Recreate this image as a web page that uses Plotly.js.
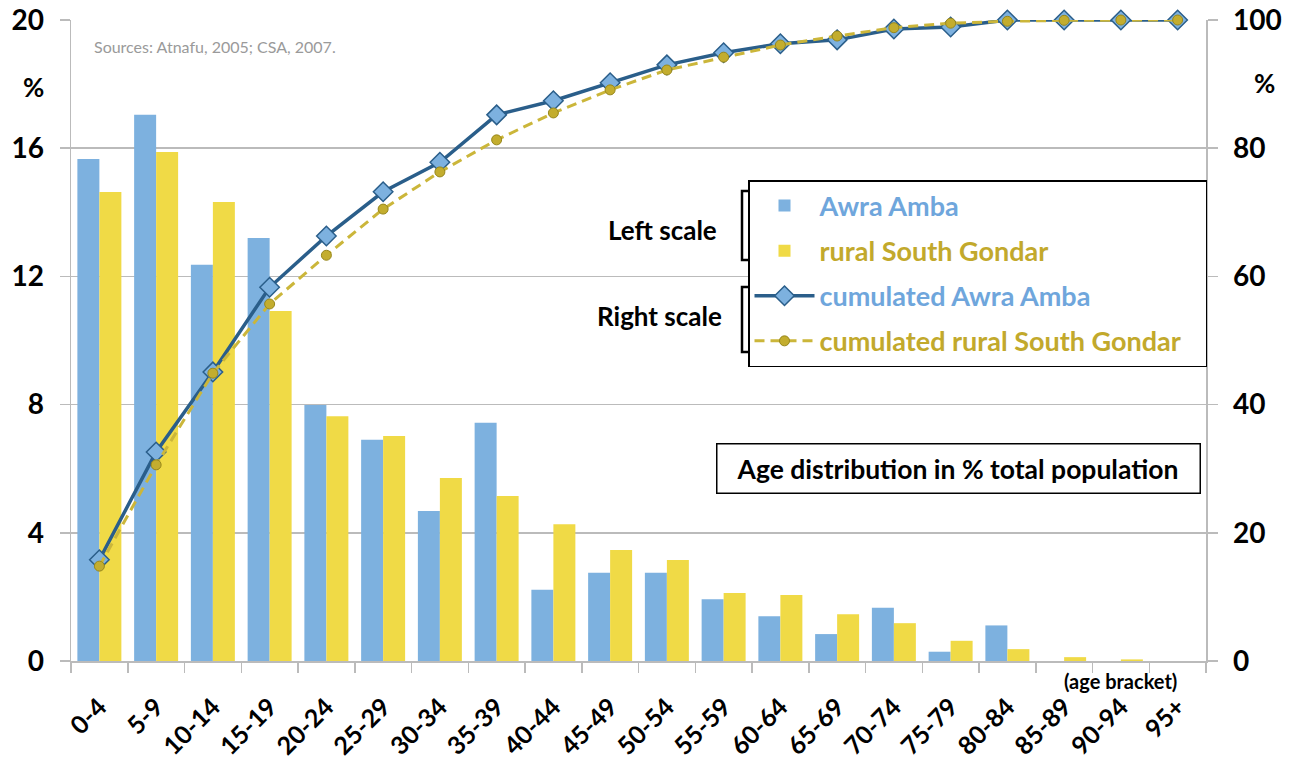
<!DOCTYPE html>
<html>
<head>
<meta charset="utf-8">
<script src="https://cdn.plot.ly/plotly-3.0.1.min.js"></script>
<style>html,body{margin:0;padding:0;background:#fff;}#chart{width:1298px;height:765px;}</style>
</head>
<body>
<div id="chart"></div>
<script>
var ageBrackets = ["0-4","5-9","10-14","15-19","20-24","25-29","30-34","35-39","40-44","45-49","50-54","55-59","60-64","65-69","70-74","75-79","80-84","85-89","90-94","95+"];
var awraAmba = [15.66,17.04,12.36,13.2,7.99,6.9,4.68,7.43,2.22,2.75,2.75,1.93,1.4,0.84,1.66,0.29,1.11,0,0,0];
var southGondar = [14.63,15.88,14.32,10.92,7.64,7.02,5.71,5.15,4.27,3.46,3.15,2.12,2.06,1.46,1.18,0.63,0.37,0.12,0.05,0];
var cumAwraAmba = [15.8,32.6,45.1,58.3,66.3,73.2,77.8,85.2,87.4,90.2,93.0,94.9,96.3,96.9,98.6,98.9,100,100,100,100];
var cumSouthGondar = [14.8,30.6,44.9,55.7,63.3,70.5,76.3,81.3,85.5,89.1,92.2,94.2,96.1,97.5,98.8,99.5,99.8,99.95,100,100];
var leftTicks = [0,4,8,12,16,20];
var rightTicks = [0,20,40,60,80,100];

var FONT = "Lato, 'Open Sans', sans-serif";
var BLUE = "#7DB1DF", YELLOW = "#F0DA46", DARKBLUE = "#2A5E8A", OLIVE = "#CBB63A";
var PAD = "\u00a0\u00a0\u00a0";

var traces = [
  {type:"bar", x:ageBrackets, y:awraAmba, name:'<span style="color:#6FA6DC">Awra Amba</span>',
   marker:{color:BLUE, line:{width:0}}, legendgroup:"a"},
  {type:"bar", x:ageBrackets, y:southGondar, name:'<span style="color:#C2A92C">rural South Gondar</span>',
   marker:{color:YELLOW, line:{width:0}}, legendgroup:"b"},
  {type:"scatter", mode:"lines+markers", x:ageBrackets, y:cumAwraAmba, yaxis:"y2", cliponaxis:false,
   name:'<span style="color:#6FA6DC">cumulated Awra Amba</span>',
   line:{color:DARKBLUE, width:3.5}, marker:{symbol:"diamond", size:15, color:BLUE, line:{color:DARKBLUE, width:1.5}}, legendgroup:"c"},
  {type:"scatter", mode:"lines+markers", x:ageBrackets, y:cumSouthGondar, yaxis:"y2", cliponaxis:false,
   name:'<span style="color:#C2A92C">cumulated rural South Gondar</span>' + PAD,
   line:{color:OLIVE, width:3, dash:"10px,6px"}, marker:{symbol:"circle", size:10, color:"#C3AD2E", line:{color:"#97871C", width:1}}, legendgroup:"d"}
];

function px2x(p){return (p-71)/1135;}
function py2y(p){return (661-p)/641;}

var layout = {
  width:1298, height:765,
  margin:{l:71, r:92, t:20, b:104, pad:0},
  paper_bgcolor:"#fff", plot_bgcolor:"#fff",
  font:{family:FONT, color:"#000"},
  barmode:"group", bargap:0.225, bargroupgap:0,
  showlegend:true,
  legend:{x:px2x(748), y:py2y(180), xanchor:"left", yanchor:"top", bgcolor:"#fff", bordercolor:"#000", borderwidth:1.5,
    font:{family:FONT, size:27, weight:"bold"}, tracegroupgap:7, itemwidth:60, traceorder:"grouped"},
  xaxis:{type:"category", range:[-0.5,19.5], autorange:false, tickson:"boundaries", ticks:"outside", ticklen:10, tickcolor:"#BBBBBB", tickwidth:1.5,
    showline:true, linecolor:"#BBBBBB", linewidth:1.5, showgrid:false, tickangle:-45, ticklabelstandoff:20,
    tickfont:{family:FONT, size:25, weight:"bold"}, fixedrange:true, automargin:false},
  yaxis:{range:[0,20], autorange:false, tickvals:leftTicks, ticks:"outside", ticklen:10, tickcolor:"#BBBBBB", tickwidth:1.5,
    showline:true, linecolor:"#BBBBBB", linewidth:1.5, showgrid:true, gridcolor:"#BBBBBB", gridwidth:1.5, zeroline:false,
    tickfont:{family:FONT, size:28, weight:"bold"}, ticklabelstandoff:10, automargin:false},
  yaxis2:{range:[0,100], autorange:false, tickvals:rightTicks, overlaying:"y", side:"right", ticks:"outside", ticklen:10, tickcolor:"#BBBBBB", tickwidth:1.5,
    showline:true, linecolor:"#BBBBBB", linewidth:1.5, showgrid:false, zeroline:false,
    tickfont:{family:FONT, size:28, weight:"bold"}, ticklabelstandoff:10, automargin:false},
  shapes:[
    {type:"path", xref:"paper", yref:"paper", path:"M"+px2x(748)+","+py2y(191)+" L"+px2x(742)+","+py2y(191)+" L"+px2x(742)+","+py2y(260)+" L"+px2x(748)+","+py2y(260), line:{color:"#000", width:2.5}},
    {type:"path", xref:"paper", yref:"paper", path:"M"+px2x(748)+","+py2y(287)+" L"+px2x(742)+","+py2y(287)+" L"+px2x(742)+","+py2y(352)+" L"+px2x(748)+","+py2y(352), line:{color:"#000", width:2.5}}
  ],
  annotations:[
    {xref:"paper", yref:"paper", x:px2x(92), y:py2y(47), xanchor:"left", yanchor:"middle", showarrow:false,
     text:"Sources: Atnafu, 2005; CSA, 2007.", font:{family:FONT, size:16, color:"#9A9A9A"}},
    {xref:"paper", yref:"paper", x:px2x(33), y:py2y(87), xanchor:"center", yanchor:"middle", showarrow:false,
     text:"%", font:{family:FONT, size:26, weight:"bold"}},
    {xref:"paper", yref:"paper", x:px2x(1264), y:py2y(83), xanchor:"center", yanchor:"middle", showarrow:false,
     text:"%", font:{family:FONT, size:26, weight:"bold"}},
    {xref:"paper", yref:"paper", x:px2x(662), y:py2y(230), xanchor:"center", yanchor:"middle", showarrow:false,
     text:"Left scale", font:{family:FONT, size:26, weight:"bold"}},
    {xref:"paper", yref:"paper", x:px2x(660), y:py2y(316), xanchor:"center", yanchor:"middle", showarrow:false,
     text:"Right scale", font:{family:FONT, size:26, weight:"bold"}},
    {xref:"paper", yref:"paper", x:px2x(958), y:py2y(468), xanchor:"center", yanchor:"middle", showarrow:false,
     text:"\u00a0\u00a0Age distribution in % total population\u00a0\u00a0", font:{family:FONT, size:26.5, weight:"bold"},
     bordercolor:"#000", borderwidth:1.5, borderpad:8, bgcolor:"#fff"},
    {xref:"paper", yref:"paper", x:px2x(1120), y:py2y(681), xanchor:"center", yanchor:"middle", showarrow:false,
     text:"(age bracket)", font:{family:FONT, size:20, weight:"bold"}}
  ]
};

Plotly.newPlot("chart", traces, layout, {displayModeBar:false, staticPlot:true});
</script>
</body>
</html>
